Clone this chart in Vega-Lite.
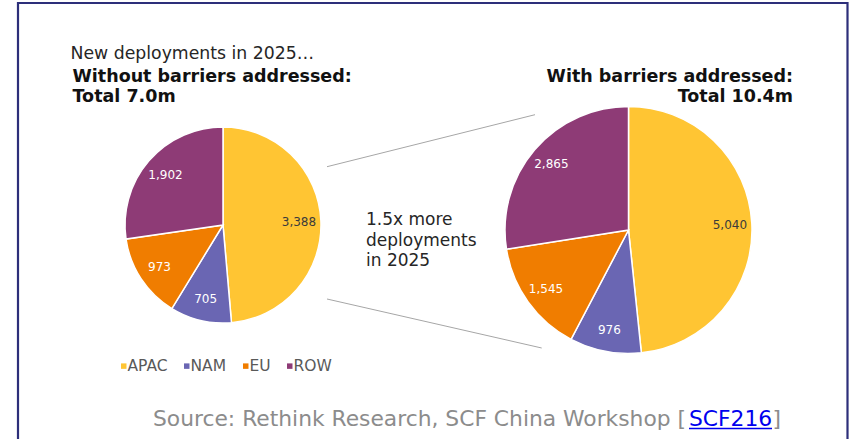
{
  "$schema": "https://vega.github.io/schema/vega-lite/v6.json",
  "width": 850,
  "height": 439,
  "autosize": {"type": "fit", "contains": "padding"},
  "padding": 0,
  "background": "white",
  "config": {
    "view": {"stroke": null},
    "font": "DejaVu Sans",
    "text": {"font": "DejaVu Sans"},
    "legend": {
      "orient": "none",
      "legendX": 116,
      "legendY": 358,
      "direction": "horizontal",
      "symbolType": "square",
      "symbolSize": 30,
      "symbolStrokeWidth": 0,
      "labelFontSize": 15.5,
      "labelFont": "DejaVu Sans",
      "labelColor": "#595959",
      "labelOffset": -4,
      "columnPadding": 11,
      "padding": 0
    }
  },
  "layer": [
    {
      "data": {"values": [{}]},
      "layer": [
        {
          "mark": {"type": "rect", "filled": false, "color": "#2d2f7a", "strokeWidth": 2.2, "clip": true},
          "encoding": {
            "x": {"datum": 18, "type": "quantitative", "scale": {"domain": [0, 850], "nice": false, "zero": false}, "axis": null},
            "x2": {"datum": 847.5},
            "y": {"datum": 3, "type": "quantitative", "scale": {"domain": [0, 439], "nice": false, "zero": false, "reverse": true}, "axis": null},
            "y2": {"datum": 470}
          }
        },
        {
          "mark": {"type": "rule", "color": "#a6a6a6", "strokeWidth": 1},
          "encoding": {
            "x": {"datum": 327, "type": "quantitative", "scale": {"domain": [0, 850], "nice": false, "zero": false}, "axis": null},
            "x2": {"datum": 535},
            "y": {"datum": 166.7, "type": "quantitative", "scale": {"domain": [0, 439], "nice": false, "zero": false, "reverse": true}, "axis": null},
            "y2": {"datum": 114.7}
          }
        },
        {
          "mark": {"type": "rule", "color": "#a6a6a6", "strokeWidth": 1},
          "encoding": {
            "x": {"datum": 327, "type": "quantitative", "scale": {"domain": [0, 850], "nice": false, "zero": false}, "axis": null},
            "x2": {"datum": 541.7},
            "y": {"datum": 299, "type": "quantitative", "scale": {"domain": [0, 439], "nice": false, "zero": false, "reverse": true}, "axis": null},
            "y2": {"datum": 348}
          }
        },
        {
          "mark": {"type": "text", "align": "left", "baseline": "alphabetic", "fontSize": 17.3, "color": "#262626", "text": "New deployments in 2025…"},
          "encoding": {
            "x": {"datum": 70.5, "type": "quantitative", "scale": {"domain": [0, 850], "nice": false, "zero": false}, "axis": null},
            "y": {"datum": 59.3, "type": "quantitative", "scale": {"domain": [0, 439], "nice": false, "zero": false, "reverse": true}, "axis": null}
          }
        },
        {
          "mark": {"type": "text", "align": "left", "baseline": "alphabetic", "fontSize": 17.5, "fontWeight": "bold", "lineHeight": 20, "color": "#111111", "text": ["Without barriers addressed:", "Total 7.0m"]},
          "encoding": {
            "x": {"datum": 72.5, "type": "quantitative", "scale": {"domain": [0, 850], "nice": false, "zero": false}, "axis": null},
            "y": {"datum": 81.7, "type": "quantitative", "scale": {"domain": [0, 439], "nice": false, "zero": false, "reverse": true}, "axis": null}
          }
        },
        {
          "mark": {"type": "text", "align": "right", "baseline": "alphabetic", "fontSize": 17.5, "fontWeight": "bold", "lineHeight": 20, "color": "#111111", "text": ["With barriers addressed:", "Total 10.4m"]},
          "encoding": {
            "x": {"datum": 793, "type": "quantitative", "scale": {"domain": [0, 850], "nice": false, "zero": false}, "axis": null},
            "y": {"datum": 81.7, "type": "quantitative", "scale": {"domain": [0, 439], "nice": false, "zero": false, "reverse": true}, "axis": null}
          }
        },
        {
          "mark": {"type": "text", "align": "left", "baseline": "alphabetic", "fontSize": 17, "lineHeight": 20.5, "color": "#262626", "text": ["1.5x more", "deployments", "in 2025"]},
          "encoding": {
            "x": {"datum": 366, "type": "quantitative", "scale": {"domain": [0, 850], "nice": false, "zero": false}, "axis": null},
            "y": {"datum": 225, "type": "quantitative", "scale": {"domain": [0, 439], "nice": false, "zero": false, "reverse": true}, "axis": null}
          }
        },
        {
          "mark": {"type": "text", "align": "left", "baseline": "alphabetic", "fontSize": 21.8, "color": "#8c8c8c", "text": "Source: Rethink Research, SCF China Workshop ["},
          "encoding": {
            "x": {"datum": 153, "type": "quantitative", "scale": {"domain": [0, 850], "nice": false, "zero": false}, "axis": null},
            "y": {"datum": 426, "type": "quantitative", "scale": {"domain": [0, 439], "nice": false, "zero": false, "reverse": true}, "axis": null}
          }
        },
        {
          "mark": {"type": "text", "align": "left", "baseline": "alphabetic", "fontSize": 21.8, "color": "#0000ee", "text": "SCF216"},
          "encoding": {
            "x": {"datum": 689, "type": "quantitative", "scale": {"domain": [0, 850], "nice": false, "zero": false}, "axis": null},
            "y": {"datum": 426, "type": "quantitative", "scale": {"domain": [0, 439], "nice": false, "zero": false, "reverse": true}, "axis": null}
          }
        },
        {
          "mark": {"type": "rule", "color": "#0000ee", "strokeWidth": 1.3},
          "encoding": {
            "x": {"datum": 689, "type": "quantitative", "scale": {"domain": [0, 850], "nice": false, "zero": false}, "axis": null},
            "x2": {"datum": 772},
            "y": {"datum": 428.5, "type": "quantitative", "scale": {"domain": [0, 439], "nice": false, "zero": false, "reverse": true}, "axis": null}
          }
        },
        {
          "mark": {"type": "text", "align": "left", "baseline": "alphabetic", "fontSize": 21.8, "color": "#8c8c8c", "text": "]"},
          "encoding": {
            "x": {"datum": 772.5, "type": "quantitative", "scale": {"domain": [0, 850], "nice": false, "zero": false}, "axis": null},
            "y": {"datum": 426, "type": "quantitative", "scale": {"domain": [0, 439], "nice": false, "zero": false, "reverse": true}, "axis": null}
          }
        }
      ]
    },
    {
      "data": {
        "values": [
          {"scenario": "Without barriers addressed", "region": "APAC", "value": 3388},
          {"scenario": "Without barriers addressed", "region": "NAM", "value": 705},
          {"scenario": "Without barriers addressed", "region": "EU", "value": 973},
          {"scenario": "Without barriers addressed", "region": "ROW", "value": 1902},
          {"scenario": "With barriers addressed", "region": "APAC", "value": 5040},
          {"scenario": "With barriers addressed", "region": "NAM", "value": 976},
          {"scenario": "With barriers addressed", "region": "EU", "value": 1545},
          {"scenario": "With barriers addressed", "region": "ROW", "value": 2865}
        ]
      },
      "transform": [
        {"joinaggregate": [{"op": "sum", "field": "value", "as": "total"}], "groupby": ["scenario"]},
        {"calculate": "indexof(['APAC','NAM','EU','ROW'], datum.region)", "as": "legend_order"}
      ],
      "encoding": {
        "x": {"field": "scenario", "type": "nominal", "scale": {"type": "point", "domain": ["Without barriers addressed", "With barriers addressed"], "range": [223, 628.5], "padding": 0}, "axis": null},
        "y": {"field": "scenario", "type": "nominal", "scale": {"type": "point", "domain": ["Without barriers addressed", "With barriers addressed"], "range": [225, 230], "padding": 0}, "axis": null},
        "theta": {"field": "value", "type": "quantitative", "stack": "normalize"},
        "radius": {"field": "total", "type": "quantitative", "scale": {"type": "linear", "zero": false, "nice": false, "range": [98, 123.5]}},
        "order": {"field": "legend_order", "type": "quantitative"},
        "detail": {"field": "region", "type": "nominal"}
      },
      "layer": [
        {
          "mark": {"type": "arc", "stroke": "white", "strokeWidth": 1.5},
          "encoding": {
            "radius2": {"value": 0},
            "color": {
              "field": "region",
              "type": "nominal",
              "scale": {"domain": ["APAC", "NAM", "EU", "ROW"], "range": ["#ffc533", "#6a66b3", "#f07d00", "#8e3b76"]},
              "legend": {"title": null}
            }
          }
        },
        {
          "mark": {"type": "text", "radiusOffset": -22, "fontSize": 12, "align": "center", "baseline": "middle"},
          "encoding": {
            "text": {"field": "value", "type": "quantitative", "format": ","},
            "color": {"condition": {"test": "datum.region === 'APAC'", "value": "#3b3b3b"}, "value": "white"}
          }
        }
      ]
    }
  ],
  "resolve": {"scale": {"x": "independent", "y": "independent"}}
}
